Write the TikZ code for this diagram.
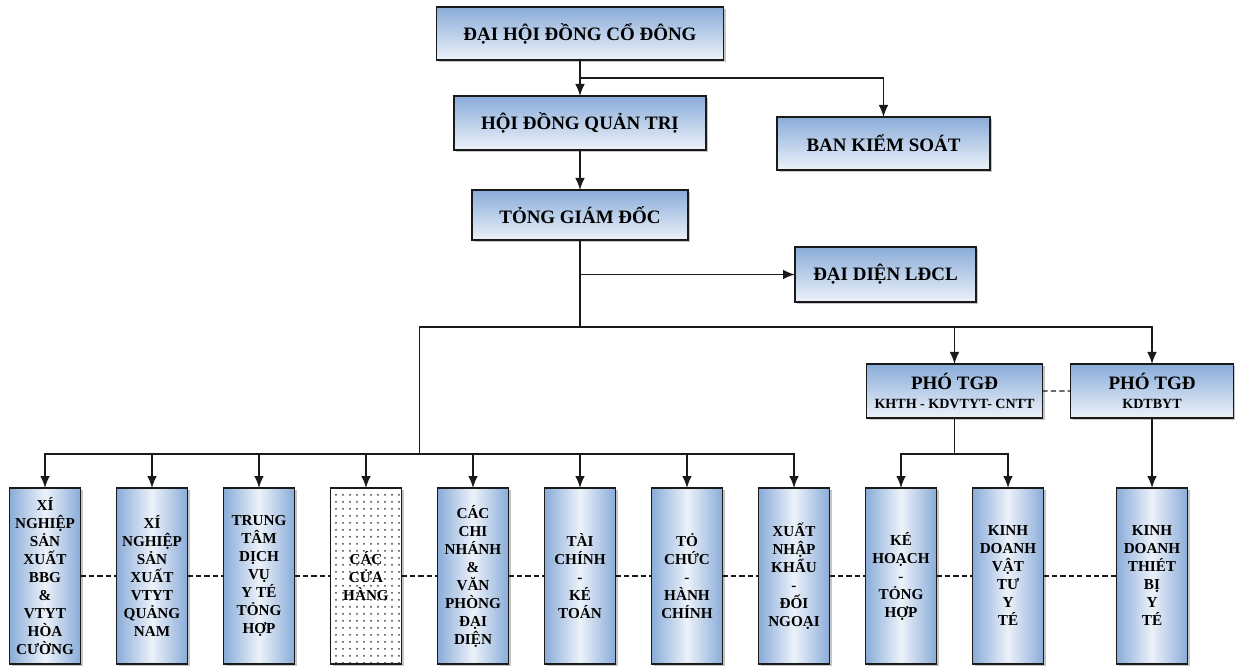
\documentclass[tikz,border=0pt]{standalone}
\usepackage{fontspec}
\setmainfont{Liberation Serif}
\usetikzlibrary{positioning,arrows.meta,calc,shadows,patterns.meta}
\definecolor{OrgBlue}{HTML}{8AACD9}
\definecolor{OrgLight}{HTML}{ECF2F9}
\definecolor{OrgLine}{HTML}{1A1A1A}

\begin{document}
\begin{tikzpicture}[
  node distance=9mm and 9mm,
  head/.style={draw=OrgLine, line width=1.2pt, outer sep=0pt, top color=OrgBlue, bottom color=OrgLight, drop shadow={shadow xshift=0.6mm, shadow yshift=-0.6mm, fill=black!45}, minimum height=13.5mm, align=center, inner sep=2pt, font=\fontsize{13.5}{15}\selectfont\bfseries},
  cell/.style={draw=OrgLine, line width=1.2pt, outer sep=0pt, drop shadow={shadow xshift=0.6mm, shadow yshift=-0.6mm, fill=black!45}, minimum width=17.75mm, minimum height=44mm, align=center, inner sep=1pt, font=\fontsize{10.8}{12.8}\selectfont\bfseries},
  unit/.style={cell, left color=OrgBlue, right color=OrgBlue, middle color=OrgLight},
  shop/.style={cell, preaction={fill=white}, pattern={Dots[distance=1.75mm, radius=0.25mm]}, pattern color=black!75},
  line/.style={line width=1pt, OrgLine},
  arrow/.style={-{Latex[length=3mm,width=2.4mm]}, line width=1pt, OrgLine},
  link/.style={dash pattern=on 1.3mm off 0.8mm, line width=0.8pt, OrgLine}
]
\useasboundingbox (0,0) rectangle (308.75mm,-167.5mm);
% top of the chart
\node[head, minimum width=71.75mm, minimum height=13.25mm] (dhcd) at (145mm,-8.375mm) {ĐẠI HỘI ĐỒNG CỔ ĐÔNG};
\node[head, minimum width=63mm, below=9mm of dhcd] (hdqt) {HỘI ĐỒNG QUẢN TRỊ};
\node[head, minimum width=53.25mm, minimum height=13.25mm, right=17.75mm of hdqt, yshift=-5.125mm] (bks) {BAN KIỂM SOÁT};
\node[head, minimum width=54mm, minimum height=12.5mm, below=10mm of hdqt] (tgd) {TỎNG GIÁM ĐỐC};
\node[head, minimum width=45.25mm, minimum height=13.75mm, below right=1.75mm and 26.75mm of tgd.south east] (ddl) {ĐẠI DIỆN LĐCL};
% units
\node[unit, below=62mm of tgd] (b6) {TÀI\\CHÍNH\\-\\KÉ\\TOÁN};
\node[unit, left=of b6] (b5) {CÁC\\CHI\\NHÁNH\\\&\\VĂN\\PHÒNG\\ĐẠI\\DIỆN};
\node[shop, left=of b5] (b4) {CÁC\\CỬA\\HÀNG};
\node[unit, left=of b4] (b3) {TRUNG\\TÂM\\DỊCH\\VỤ\\Y TÉ\\TỎNG\\HỢP};
\node[unit, left=of b3] (b2) {XÍ\\NGHIỆP\\SẢN\\XUẤT\\VTYT\\QUẢNG\\NAM};
\node[unit, left=of b2] (b1) {XÍ\\NGHIỆP\\SẢN\\XUẤT\\BBG\\\&\\VTYT\\HÒA\\CƯỜNG};
\node[unit, right=of b6] (b7) {TỎ\\CHỨC\\-\\HÀNH\\CHÍNH};
\node[unit, right=of b7] (b8) {XUẤT\\NHẬP\\KHẨU\\-\\ĐỐI\\NGOẠI};
\node[unit, right=of b8] (b9) {KÉ\\HOẠCH\\-\\TỎNG\\HỢP};
\node[unit, right=of b9] (b10) {KINH\\DOANH\\VẬT\\TƯ\\Y\\TÉ};
\node[unit, right=18.25mm of b10] (b11) {KINH\\DOANH\\THIÉT\\BỊ\\Y\\TÉ};
% deputies
\node[head, minimum width=44mm, above=17.5mm of $(b9.north)!0.5!(b10.north)$] (pho1) {PHÓ TGĐ\\[-1pt]{\fontsize{10}{12}\selectfont KHTH - KDVTYT- CNTT}};
\node[head, minimum width=40.75mm, above=17.5mm of b11] (pho2) {PHÓ TGĐ\\[-1pt]{\fontsize{10}{12}\selectfont KDTBYT}};
% connectors
\coordinate (split) at ($(dhcd.south)!0.5!(hdqt.north)$);
\coordinate (hub) at ([yshift=-21.75mm]tgd.south);
\coordinate (low) at ($(b4.north east)!0.5!(b5.north west)+(0,8.5mm)$);
\coordinate (fork) at (pho1.south |- low);
\draw[arrow] (dhcd) -- (hdqt);
\draw[arrow] (split) -| (bks);
\draw[arrow] (hdqt) -- (tgd);
\draw[line] (tgd) -- (hub);
\draw[arrow] (tgd.south |- ddl.west) -- (ddl);
\draw[line] (hub) -| (low);
\draw[arrow] (hub) -| (pho1);
\draw[arrow] (hub) -| (pho2);
\draw[arrow] (low) -| (b1);
\draw[arrow] (low) -| (b2);
\draw[arrow] (low) -| (b3);
\draw[arrow] (low) -| (b4);
\draw[arrow] (low) -| (b5);
\draw[arrow] (low) -| (b6);
\draw[arrow] (low) -| (b7);
\draw[arrow] (low) -| (b8);
\draw[line] (pho1) -- (fork);
\draw[arrow] (fork) -| (b9);
\draw[arrow] (fork) -| (b10);
\draw[arrow] (pho2) -- (b11);
% dashed links
\draw[link] (pho1) -- (pho2);
\draw[link] (b1) -- (b2);
\draw[link] (b2) -- (b3);
\draw[link] (b3) -- (b4);
\draw[link] (b4) -- (b5);
\draw[link] (b5) -- (b6);
\draw[link] (b6) -- (b7);
\draw[link] (b7) -- (b8);
\draw[link] (b8) -- (b9);
\draw[link] (b9) -- (b10);
\draw[link] (b10) -- (b11);
\end{tikzpicture}
\end{document}
